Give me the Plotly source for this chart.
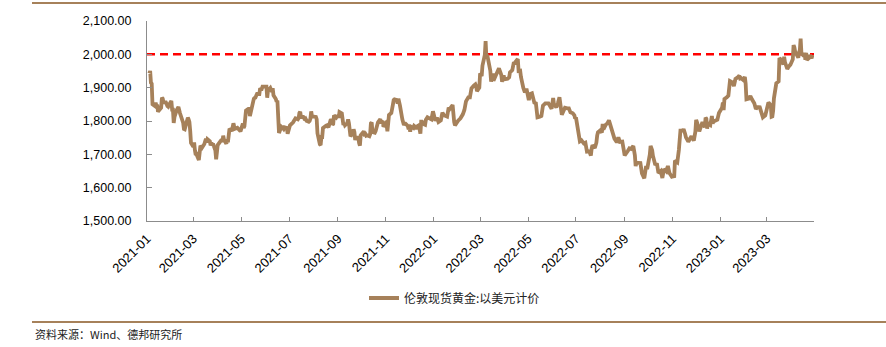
import plotly.graph_objects as go

# ---- data: London spot gold, USD ----
dates_2021 = ["2021-01-04","2021-01-05","2021-01-06","2021-01-07","2021-01-08","2021-01-11","2021-01-12","2021-01-13","2021-01-14","2021-01-15",
"2021-01-19","2021-01-20","2021-01-21","2021-01-22","2021-01-25","2021-01-27","2021-01-28","2021-01-29","2021-02-01","2021-02-02",
"2021-02-03","2021-02-04","2021-02-05","2021-02-08","2021-02-10","2021-02-12","2021-02-16","2021-02-17","2021-02-18","2021-02-19",
"2021-02-22","2021-02-23","2021-02-24","2021-02-25","2021-02-26","2021-03-01","2021-03-02","2021-03-03","2021-03-04","2021-03-05",
"2021-03-08","2021-03-09","2021-03-10","2021-03-11","2021-03-12","2021-03-15","2021-03-17","2021-03-18","2021-03-19","2021-03-22",
"2021-03-23","2021-03-24","2021-03-25","2021-03-26","2021-03-29","2021-03-30","2021-03-31","2021-04-01","2021-04-06","2021-04-07",
"2021-04-08","2021-04-09","2021-04-12","2021-04-13","2021-04-14","2021-04-15","2021-04-16","2021-04-19","2021-04-20","2021-04-21",
"2021-04-22","2021-04-23","2021-04-26","2021-04-27","2021-04-28","2021-04-29","2021-04-30","2021-05-03","2021-05-04","2021-05-05",
"2021-05-06","2021-05-07","2021-05-10","2021-05-11","2021-05-12","2021-05-13","2021-05-14","2021-05-17","2021-05-18","2021-05-19",
"2021-05-20","2021-05-21","2021-05-24","2021-05-25","2021-05-26","2021-05-27","2021-05-28","2021-06-01","2021-06-02","2021-06-03",
"2021-06-04","2021-06-07","2021-06-08","2021-06-09","2021-06-10","2021-06-11","2021-06-14","2021-06-15","2021-06-16","2021-06-17",
"2021-06-18","2021-06-21","2021-06-22","2021-06-23","2021-06-24","2021-06-25","2021-06-28","2021-06-29","2021-06-30","2021-07-01",
"2021-07-02","2021-07-06","2021-07-07","2021-07-08","2021-07-09","2021-07-12","2021-07-13","2021-07-14","2021-07-15","2021-07-16",
"2021-07-19","2021-07-20","2021-07-21","2021-07-22","2021-07-23","2021-07-26","2021-07-27","2021-07-28","2021-07-29","2021-07-30",
"2021-08-02","2021-08-03","2021-08-04","2021-08-05","2021-08-06","2021-08-09","2021-08-10","2021-08-11","2021-08-12","2021-08-13",
"2021-08-16","2021-08-17","2021-08-18","2021-08-19","2021-08-20","2021-08-23","2021-08-24","2021-08-25","2021-08-26","2021-08-27",
"2021-08-30","2021-08-31","2021-09-01","2021-09-02","2021-09-03","2021-09-06","2021-09-07","2021-09-08","2021-09-09","2021-09-10",
"2021-09-13","2021-09-14","2021-09-15","2021-09-16","2021-09-17","2021-09-20","2021-09-21","2021-09-22","2021-09-23","2021-09-24",
"2021-09-27","2021-09-28","2021-09-29","2021-09-30","2021-10-01","2021-10-04","2021-10-05","2021-10-06","2021-10-07","2021-10-08",
"2021-10-11","2021-10-12","2021-10-13","2021-10-14","2021-10-15","2021-10-18","2021-10-19","2021-10-20","2021-10-21","2021-10-22",
"2021-10-25","2021-10-26","2021-10-27","2021-10-28","2021-10-29","2021-11-01","2021-11-02","2021-11-03","2021-11-04","2021-11-05",
"2021-11-08","2021-11-09","2021-11-10","2021-11-11","2021-11-12","2021-11-15","2021-11-16","2021-11-17","2021-11-18","2021-11-19",
"2021-11-22","2021-11-23","2021-11-24","2021-11-25","2021-11-26","2021-11-29","2021-11-30","2021-12-01","2021-12-02","2021-12-03",
"2021-12-06","2021-12-07","2021-12-08","2021-12-09","2021-12-10","2021-12-13","2021-12-14","2021-12-15","2021-12-16","2021-12-17",
"2021-12-20","2021-12-21","2021-12-22","2021-12-23","2021-12-24","2021-12-29","2021-12-30","2021-12-31"]
values_2021 = [1943,1950,1915,1912,1850,1845,1855,1846,1849,1828,
1840,1870,1867,1856,1856,1845,1843,1848,1860,1834,
1834,1794,1812,1834,1842,1823,1795,1776,1775,1784,
1810,1805,1797,1770,1734,1723,1736,1712,1698,1700,
1683,1716,1726,1723,1720,1731,1747,1735,1745,1739,
1727,1736,1726,1732,1712,1685,1707,1728,1744,1737,
1756,1744,1732,1745,1736,1763,1777,1770,1778,1793,
1784,1777,1780,1776,1773,1769,1769,1792,1779,1784,
1815,1831,1836,1836,1815,1826,1843,1867,1869,1870,
1876,1881,1881,1898,1896,1896,1903,1903,1903,1870,
1891,1899,1893,1888,1898,1877,1866,1858,1861,1774,
1764,1783,1778,1779,1776,1781,1779,1762,1770,1777,
1787,1796,1802,1802,1808,1805,1809,1824,1828,1812,
1812,1809,1803,1806,1801,1798,1800,1807,1829,1814,
1812,1810,1812,1805,1763,1730,1728,1752,1752,1779,
1787,1786,1787,1781,1781,1805,1802,1789,1791,1817,
1810,1813,1815,1810,1827,1823,1795,1788,1794,1787,
1794,1805,1794,1754,1754,1764,1775,1767,1743,1750,
1750,1734,1726,1757,1761,1769,1760,1761,1756,1757,
1754,1760,1793,1796,1767,1765,1770,1782,1784,1796,
1806,1793,1798,1800,1783,1793,1788,1769,1793,1818,
1824,1832,1849,1863,1865,1863,1852,1867,1860,1846,
1805,1791,1788,1792,1792,1785,1775,1782,1768,1783,
1779,1785,1783,1775,1783,1787,1771,1762,1798,1798,
1790,1789,1804,1808,1811,1805,1815,1829]

dates_2022 = ["2022-01-03","2022-01-05","2022-01-07","2022-01-10","2022-01-12","2022-01-14","2022-01-18","2022-01-20","2022-01-21","2022-01-25",
"2022-01-27","2022-01-28","2022-02-01","2022-02-03","2022-02-04","2022-02-07","2022-02-09","2022-02-11","2022-02-14","2022-02-16",
"2022-02-18","2022-02-21","2022-02-23","2022-02-24","2022-02-25","2022-02-28","2022-03-01","2022-03-03","2022-03-04","2022-03-07",
"2022-03-08","2022-03-09","2022-03-10","2022-03-11","2022-03-14","2022-03-15","2022-03-16","2022-03-17","2022-03-18","2022-03-21",
"2022-03-23","2022-03-25","2022-03-28","2022-03-29","2022-03-31","2022-04-01","2022-04-05","2022-04-07","2022-04-08","2022-04-11",
"2022-04-13","2022-04-14","2022-04-18","2022-04-19","2022-04-21","2022-04-22","2022-04-25","2022-04-27","2022-04-28","2022-04-29",
"2022-05-02","2022-05-04","2022-05-06","2022-05-09","2022-05-11","2022-05-12","2022-05-13","2022-05-16","2022-05-18","2022-05-20",
"2022-05-23","2022-05-25","2022-05-27","2022-05-31","2022-06-02","2022-06-03","2022-06-06","2022-06-08","2022-06-10","2022-06-13",
"2022-06-15","2022-06-17","2022-06-20","2022-06-22","2022-06-24","2022-06-27","2022-06-29","2022-06-30","2022-07-01","2022-07-05",
"2022-07-06","2022-07-08","2022-07-11","2022-07-13","2022-07-14","2022-07-15","2022-07-18","2022-07-20","2022-07-21","2022-07-22",
"2022-07-25","2022-07-27","2022-07-28","2022-07-29","2022-08-01","2022-08-03","2022-08-04","2022-08-05","2022-08-08","2022-08-10",
"2022-08-12","2022-08-15","2022-08-17","2022-08-19","2022-08-22","2022-08-24","2022-08-26","2022-08-29","2022-08-31","2022-09-01",
"2022-09-05","2022-09-07","2022-09-09","2022-09-12","2022-09-14","2022-09-15","2022-09-16","2022-09-19","2022-09-21","2022-09-23",
"2022-09-26","2022-09-28","2022-09-30","2022-10-03","2022-10-04","2022-10-06","2022-10-07","2022-10-10","2022-10-12","2022-10-14",
"2022-10-17","2022-10-19","2022-10-21","2022-10-24","2022-10-26","2022-10-28","2022-10-31","2022-11-02","2022-11-03","2022-11-04",
"2022-11-07","2022-11-09","2022-11-10","2022-11-11","2022-11-14","2022-11-15","2022-11-17","2022-11-18","2022-11-21","2022-11-23",
"2022-11-25","2022-11-28","2022-11-30","2022-12-01","2022-12-02","2022-12-05","2022-12-07","2022-12-09","2022-12-12","2022-12-13",
"2022-12-14","2022-12-15","2022-12-16","2022-12-19","2022-12-21","2022-12-22","2022-12-23","2022-12-28","2022-12-30"]
values_2022 = [1801,1810,1797,1802,1825,1817,1813,1840,1835,1848,
1797,1787,1801,1806,1808,1820,1833,1859,1871,1871,
1898,1906,1910,1904,1889,1900,1943,1935,1966,1998,
2040,1990,1998,1987,1951,1918,1927,1943,1921,1935,
1944,1958,1938,1918,1937,1925,1927,1931,1946,1953,
1977,1974,1986,1950,1951,1932,1899,1886,1890,1897,
1863,1881,1883,1855,1853,1822,1811,1813,1815,1846,
1853,1853,1853,1837,1869,1850,1841,1853,1871,1819,
1834,1840,1838,1838,1826,1823,1817,1807,1811,1764,
1739,1742,1733,1735,1709,1708,1709,1696,1718,1727,
1719,1735,1756,1766,1772,1765,1791,1775,1789,1793,
1802,1779,1761,1747,1736,1751,1737,1738,1711,1697,
1710,1718,1716,1725,1697,1665,1675,1676,1674,1643,
1628,1660,1660,1699,1725,1712,1695,1668,1673,1644,
1650,1629,1656,1649,1665,1644,1633,1635,1630,1681,
1676,1713,1755,1771,1771,1776,1761,1751,1738,1749,
1754,1741,1768,1803,1797,1769,1786,1797,1781,1810,
1807,1777,1793,1788,1815,1792,1798,1804,1824]

dates_2023 = ["2023-01-03","2023-01-04","2023-01-05","2023-01-06","2023-01-09","2023-01-11","2023-01-13","2023-01-16","2023-01-18","2023-01-20",
"2023-01-23","2023-01-25","2023-01-26","2023-01-27","2023-01-30","2023-02-01","2023-02-02","2023-02-03","2023-02-06","2023-02-08",
"2023-02-10","2023-02-13","2023-02-15","2023-02-17","2023-02-20","2023-02-22","2023-02-24","2023-02-27","2023-02-28","2023-03-01",
"2023-03-03","2023-03-06","2023-03-07","2023-03-08","2023-03-09","2023-03-10","2023-03-13","2023-03-15","2023-03-16","2023-03-17",
"2023-03-20","2023-03-22","2023-03-23","2023-03-24","2023-03-27","2023-03-29","2023-03-31","2023-04-03","2023-04-04","2023-04-05",
"2023-04-06","2023-04-10","2023-04-11","2023-04-12","2023-04-13","2023-04-14","2023-04-17","2023-04-18","2023-04-19","2023-04-20",
"2023-04-21","2023-04-24","2023-04-25","2023-04-26","2023-04-27","2023-04-28"]
values_2023 = [1840,1855,1833,1866,1871,1876,1920,1916,1905,1926,
1931,1936,1928,1929,1923,1932,1912,1865,1867,1875,
1865,1853,1836,1842,1841,1826,1811,1817,1826,1836,
1856,1847,1813,1814,1831,1868,1913,1918,1919,1989,
1981,1969,1993,1977,1956,1964,1969,1985,2028,2021,
2008,1990,2004,2014,2047,2004,1995,2005,1984,2004,
1983,1990,1998,1992,1988,1998]

dates = dates_2021 + dates_2022 + dates_2023
values = values_2021 + values_2022 + values_2023

ref_level = 2000
x_range = ["2021-01-01", "2023-04-30"]
y_range = [1500, 2100]
series_name = "伦敦现货黄金:以美元计价"
source_text = "资料来源：Wind、德邦研究所"

W, H = 886, 347
L, R, T, B = 147, 814, 21, 221
pw, ph = R - L, B - T

def px(xp):
    return (xp - L) / pw

def py(yp):
    return (B - yp) / ph

brown = "rgb(166,129,90)"
axis_grey = "#8c8c8c"

fig = go.Figure()
fig.add_trace(go.Scatter(
    x=x_range, y=[ref_level, ref_level], mode="lines",
    line=dict(color="#ff0000", width=2.5, dash="8px,5px"),
    showlegend=False, hoverinfo="skip"))
fig.add_trace(go.Scatter(
    x=dates, y=values, mode="lines", name=series_name,
    line=dict(color=brown, width=3.8)))

fig.update_layout(
    width=W, height=H,
    margin=dict(l=L, r=W - R, t=T, b=H - B, pad=0),
    paper_bgcolor="white", plot_bgcolor="white",
    font=dict(family="Liberation Sans, Arial, sans-serif", size=12, color="#000"),
    showlegend=True,
    legend=dict(orientation="h", x=px(364), y=py(298), xanchor="left", yanchor="middle",
                font=dict(family="Noto Sans CJK SC", size=12, color="#222"),
                bgcolor="rgba(0,0,0,0)", itemwidth=30),
    xaxis=dict(type="date", range=x_range, dtick="M2", tick0="2021-01-01",
               tickformat="%Y-%m", tickangle=-45, showgrid=False, zeroline=False,
               showline=True, linecolor=axis_grey, linewidth=1,
               ticks="inside", ticklen=4, tickcolor=axis_grey,
               ticklabelstandoff=4,
               tickfont=dict(size=13)),
    yaxis=dict(range=y_range, dtick=100, tickformat=",.2f", showgrid=False, zeroline=False,
               showline=True, linecolor=axis_grey, linewidth=1,
               ticks="inside", ticklen=5, tickcolor=axis_grey,
               ticklabelstandoff=12, tickfont=dict(size=12.5)),
    shapes=[
        dict(type="line", xref="paper", yref="paper", x0=px(32), x1=px(886), y0=py(3), y1=py(3),
             line=dict(color=brown, width=2)),
        dict(type="line", xref="paper", yref="paper", x0=px(32), x1=px(886), y0=py(322), y1=py(322),
             line=dict(color=brown, width=2)),
    ],
    annotations=[
        dict(text=source_text, xref="paper", yref="paper", x=px(33), y=py(334),
             xanchor="left", yanchor="middle", showarrow=False,
             font=dict(family="Noto Sans CJK SC", size=11, color="#222")),
    ],
)

fig.write_html("out.html")
